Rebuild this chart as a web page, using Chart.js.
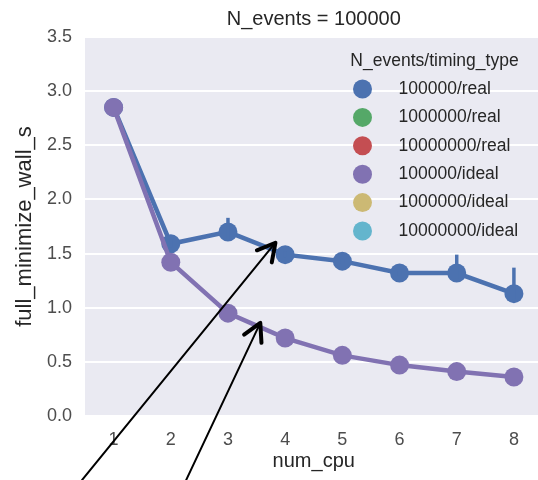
<!DOCTYPE html>
<html>
<head>
<meta charset="utf-8">
<script src="https://cdn.jsdelivr.net/npm/chart.js@4.4.1/dist/chart.umd.min.js"></script>
<style>
  html, body { margin: 0; padding: 0; background: #fff; overflow: hidden; }
  #wrap { width: 538px; height: 480px; overflow: hidden; }
</style>
</head>
<body>
<div id="wrap"><canvas id="chart" width="552" height="480"></canvas></div>
<script>
// values
const numCpu = ['1', '2', '3', '4', '5', '6', '7', '8'];
const realTime = [2.85, 1.59, 1.70, 1.49, 1.43, 1.32, 1.32, 1.13];
const realLow = [2.83, 1.56, 1.62, 1.46, 1.41, 1.30, 1.27, 1.08];
const realHigh = [2.87, 1.62, 1.83, 1.52, 1.45, 1.34, 1.49, 1.37];
const idealTime = [2.85, 1.42, 0.95, 0.72, 0.56, 0.47, 0.41, 0.36];
const yTicks = [0, 0.5, 1.0, 1.5, 2.0, 2.5, 3.0, 3.5];

const seriesLabels = ['100000/real', '1000000/real', '10000000/real',
  '100000/ideal', '1000000/ideal', '10000000/ideal'];
const seriesColors = ['#4c72b0', '#55a868', '#c44e52', '#8172b2', '#ccb974', '#64b5cd'];
const seriesData = [realTime, [], [], idealTime, [], []];

// hand-drawn arrows on top of the plot, [category index, value]
const arrows = [
  { from: [-0.55, -0.59], to: [2.83, 1.60] },
  { from: [1.27, -0.59], to: [2.565, 0.86] }
];

const FONT = '"Liberation Sans", Arial, sans-serif';
Chart.defaults.font.family = FONT;

const backdrop = {
  id: 'backdrop',
  beforeDraw(chart) {
    const { ctx, chartArea: a } = chart;
    ctx.save();
    ctx.fillStyle = '#eaeaf2';
    ctx.fillRect(a.left, a.top, a.right - a.left, a.bottom - a.top);
    ctx.restore();
  }
};

const errorBars = {
  id: 'errorBars',
  afterDatasetDraw(chart, args) {
    if (args.index !== 0) return;
    const { ctx, scales: { x, y } } = chart;
    ctx.save();
    ctx.strokeStyle = seriesColors[0];
    ctx.lineWidth = 3.5;
    realLow.forEach((lo, i) => {
      const px = x.getPixelForValue(i);
      ctx.beginPath();
      ctx.moveTo(px, y.getPixelForValue(lo));
      ctx.lineTo(px, y.getPixelForValue(realHigh[i]));
      ctx.stroke();
    });
    ctx.restore();
  }
};

const legendBox = {
  id: 'legendBox',
  afterDraw(chart) {
    const { ctx, chartArea: a } = chart;
    ctx.save();
    ctx.font = '17.5px ' + FONT;
    ctx.textBaseline = 'middle';
    ctx.fillStyle = '#262626';
    ctx.textAlign = 'center';
    ctx.fillText('N_events/timing_type', a.right - 108, a.top + 24);
    chart.data.datasets.forEach((ds, i) => {
      const yy = a.top + 52 + i * 28.4;
      ctx.beginPath();
      ctx.arc(a.right - 180, yy, 9.5, 0, Math.PI * 2);
      ctx.fillStyle = ds.backgroundColor;
      ctx.fill();
      ctx.fillStyle = '#262626';
      ctx.textAlign = 'left';
      ctx.fillText(ds.label, a.right - 144, yy);
    });
    ctx.restore();
  }
};

const arrowMarks = {
  id: 'arrowMarks',
  afterDraw(chart) {
    const { ctx, scales: { x, y } } = chart;
    ctx.save();
    ctx.strokeStyle = '#000';
    ctx.lineCap = 'round';
    ctx.lineJoin = 'round';
    arrows.forEach(a => {
      const x0 = x.getPixelForValue(a.from[0]), y0 = y.getPixelForValue(a.from[1]);
      const x1 = x.getPixelForValue(a.to[0]), y1 = y.getPixelForValue(a.to[1]);
      ctx.lineWidth = 2;
      ctx.beginPath();
      ctx.moveTo(x0, y0);
      ctx.lineTo(x1, y1);
      ctx.stroke();
      const ang = Math.atan2(y0 - y1, x0 - x1);
      const len = 20, spread = 0.5;
      ctx.lineWidth = 4;
      ctx.beginPath();
      ctx.moveTo(x1 + len * Math.cos(ang - spread), y1 + len * Math.sin(ang - spread));
      ctx.lineTo(x1, y1);
      ctx.lineTo(x1 + len * Math.cos(ang + spread), y1 + len * Math.sin(ang + spread));
      ctx.stroke();
    });
    ctx.restore();
  }
};

new Chart(document.getElementById('chart'), {
  type: 'line',
  data: {
    labels: numCpu,
    datasets: seriesLabels.map((label, i) => ({
      label: label,
      data: seriesData[i],
      borderColor: seriesColors[i],
      backgroundColor: seriesColors[i],
      borderWidth: 4.5,
      pointRadius: 9.5,
      pointBorderWidth: 0,
      tension: 0,
      order: i < 3 ? 2 : 1
    }))
  },
  options: {
    responsive: false,
    animation: false,
    layout: { padding: 0 },
    plugins: {
      legend: { display: false },
      tooltip: { enabled: false },
      title: {
        display: true,
        fullSize: false,
        text: 'N_events = 100000',
        color: '#262626',
        font: { size: 20, weight: 'normal' },
        padding: { top: 7.5, bottom: 5.5 }
      }
    },
    scales: {
      x: {
        offset: true,
        afterFit: (s) => { s.height = 64; },
        grid: { display: false, drawTicks: false },
        border: { display: false },
        ticks: { padding: 13, color: '#4d4d4d', font: { size: 18 } },
        title: {
          display: true,
          text: 'num_cpu',
          color: '#262626',
          font: { size: 20 },
          padding: { top: 0, bottom: 7 }
        }
      },
      y: {
        min: 0,
        max: 3.5,
        afterFit: (s) => { s.width = 85; },
        afterBuildTicks: (s) => { s.ticks = yTicks.map(v => ({ value: v })); },
        grid: { color: '#ffffff', lineWidth: 2, drawTicks: false },
        border: { display: false },
        ticks: {
          padding: 13,
          color: '#4d4d4d',
          font: { size: 18 },
          callback: (v) => Number(v).toFixed(1)
        },
        title: {
          display: true,
          text: 'full_minimize_wall_s',
          color: '#262626',
          font: { size: 22 },
          padding: { top: 12, bottom: 0 }
        }
      }
    }
  },
  plugins: [backdrop, errorBars, legendBox, arrowMarks]
});
</script>
</body>
</html>
